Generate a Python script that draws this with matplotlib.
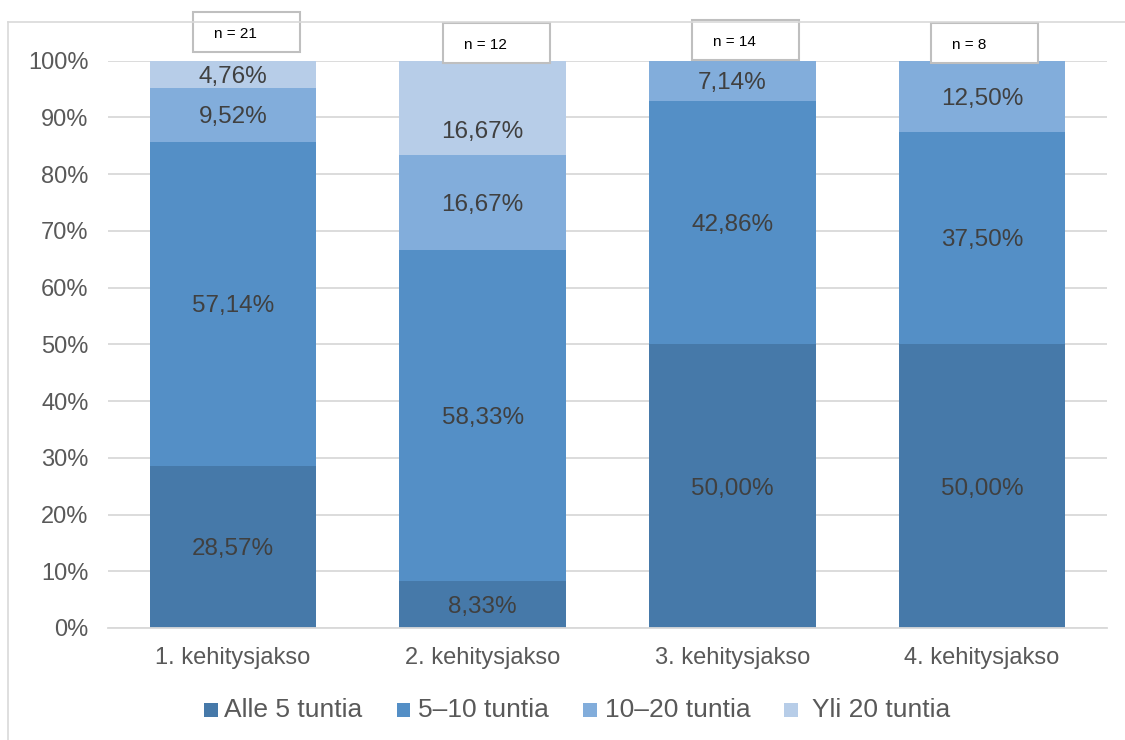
import matplotlib
matplotlib.use("Agg")
import matplotlib.pyplot as plt
from matplotlib.patches import Rectangle
from matplotlib.lines import Line2D
import numpy as np

plt.rcParams['font.family'] = ['Liberation Sans', 'DejaVu Sans']

categories = ["1. kehitysjakso", "2. kehitysjakso", "3. kehitysjakso", "4. kehitysjakso"]
series_names = ["Alle 5 tuntia", "5\u201310 tuntia", "10\u201320 tuntia", "Yli 20 tuntia"]
alle5 = [28.57, 8.33, 50.00, 50.00]
v5_10 = [57.14, 58.33, 42.86, 37.50]
v10_20 = [9.52, 16.67, 7.14, 12.50]
yli20 = [4.76, 16.67, 0.0, 0.0]
n_labels = ["n = 21", "n = 12", "n = 14", "n = 8"]

colors = ["#4679a9", "#548fc6", "#82addb", "#b7cde8"]
series = [alle5, v5_10, v10_20, yli20]

W, H = 1125, 740
fig = plt.figure(figsize=(W / 100, H / 100), dpi=100)
ax_left, ax_right, ax_top, ax_bot = 108, 1107, 60.7, 628
ax = fig.add_axes([ax_left / W, 1 - ax_bot / H, (ax_right - ax_left) / W, (ax_bot - ax_top) / H])

def fx(px):
    return px / W

def fy(py):
    return 1 - py / H

# chart frame (top and left border)
fig.add_artist(Line2D([fx(8), 1.0], [fy(22), fy(22)], color="#d9d9d9", lw=1.2, transform=fig.transFigure))
fig.add_artist(Line2D([fx(8), fx(8)], [0, fy(22)], color="#d9d9d9", lw=1.2, transform=fig.transFigure))

x = np.arange(len(categories))
bw = 0.667
bottom = np.zeros(len(categories))
label_offsets = {(3, 1): -22}  # extra shift (pixels) for one crowded label
for si, (vals, col) in enumerate(zip(series, colors)):
    vals = np.array(vals)
    ax.bar(x, vals, bw, bottom=bottom, color=col, edgecolor="none", zorder=2, label=series_names[si])
    for i, v in enumerate(vals):
        if v > 0:
            yc = bottom[i] + v / 2
            off = label_offsets.get((si, i), 0) - 2.5
            ax.annotate(f"{v:.2f}%".replace(".", ","), (x[i], yc), xytext=(0, off * 0.72),
                        textcoords="offset points", ha="center", va="center",
                        fontsize=17.5, color="#404040", zorder=3)
    bottom += vals

ax.set_xlim(-0.5, 3.5)
ax.set_ylim(0, 100)
ax.set_yticks(np.arange(0, 101, 10))
ax.set_yticklabels([f"{t}%" for t in range(0, 101, 10)])
ax.yaxis.grid(True, color="#d9d9d9", lw=1.3, zorder=0)
ax.set_axisbelow(True)
for s in ["top", "right", "left"]:
    ax.spines[s].set_visible(False)
ax.spines["bottom"].set_color("#d9d9d9")
ax.spines["bottom"].set_linewidth(1.3)
ax.tick_params(axis="y", length=0, pad=14, labelsize=17, labelcolor="#595959")
ax.tick_params(axis="x", length=0, pad=14, labelsize=17, labelcolor="#595959")
ax.set_xticks(x)
ax.set_xticklabels(categories)

# n boxes (pixel positions relative to bar centres)
def ypix_to_data(yp):
    return (ax_bot - yp) / (ax_bot - ax_top) * 100

box_specs = [(-40, 12.5, 52), (-40, 23.5, 63), (-40, 20.5, 60), (-51, 23.5, 63)]
for i, (dx, ytop, ybot) in enumerate(box_specs):
    left = x[i] + dx / 250
    y0 = ypix_to_data(ybot)
    y1 = ypix_to_data(ytop)
    rect = Rectangle((left, y0), 107 / 250, y1 - y0, facecolor="white", edgecolor="#bfbfbf",
                     lw=1.5, clip_on=False, zorder=5)
    ax.add_patch(rect)
    ax.text(left + 21 / 250, ypix_to_data((ytop + ybot) / 2 + 2), n_labels[i], ha="left", va="center",
            fontsize=11, color="black", zorder=6, clip_on=False)

# legend (drawn manually to match spacing)
sq_x = [204, 397, 583, 784]
tx_x = [224, 418, 605, 812]
sq = 13.5
for c, name, sx, tx in zip(colors, series_names, sq_x, tx_x):
    fig.add_artist(Rectangle((fx(sx), fy(703 + sq)), sq / W, sq / H, facecolor=c, edgecolor="none",
                             transform=fig.transFigure))
    fig.text(fx(tx), fy(710), name, ha="left", va="center", fontsize=19, color="#595959")

fig.savefig("out.png", dpi=100, facecolor="white")
